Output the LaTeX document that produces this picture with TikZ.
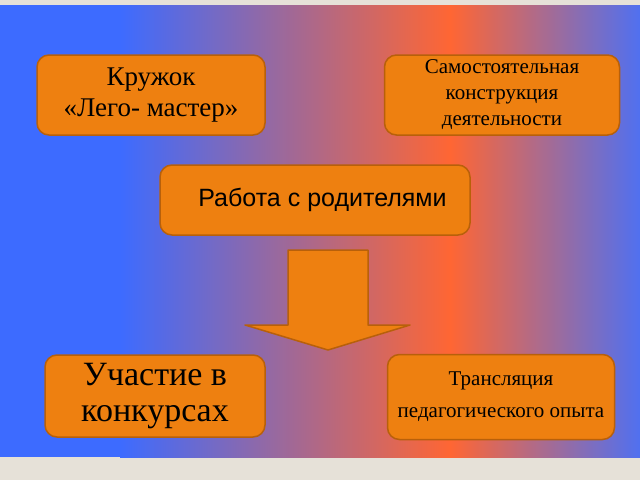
\documentclass[tikz,border=0pt]{standalone}
\usepackage{fontspec}
\setmainfont{Liberation Serif}
\newfontfamily\sansfont{Liberation Sans}
\begin{document}
\begin{tikzpicture}[x=1pt,y=-1pt]

            % Define colors
            \definecolor{bgblue}{RGB}{61,107,255}
            \definecolor{bgred}{RGB}{255,102,51}
            \definecolor{bgright}{RGB}{80,112,240}
            \definecolor{boxfill}{RGB}{238,128,16}
            \definecolor{boxline}{RGB}{184,96,10}
            \definecolor{frame}{RGB}{230,225,216}
            \tikzset{block/.style={draw=boxline, line width=1.5pt, fill=boxfill, rounded corners=12pt, align=center, inner sep=0pt}}

            % Background
            \fill[frame] (0,0) rectangle (640,480);
            \fill[bgblue] (0,5) rectangle (121,457);
            \shade[left color=bgblue, right color=bgred] (120,5) rectangle (451,457);
            \shade[left color=bgred, right color=bgright] (450,5) rectangle (640,457);
            \useasboundingbox (0,0) rectangle (640,480);

            % Boxes
            \node[block, minimum width=228pt, minimum height=80pt, font=\fontsize{27}{31}\selectfont] (kruzhok) at (151,95) {Кружок\\ «Лего- мастер»};
            \node[block, minimum width=235pt, minimum height=80pt, font=\fontsize{21}{26}\selectfont] (samost) at (502,95) {Самостоятельная\\конструкция\\деятельности};
            \node[block, minimum width=310pt, minimum height=70pt, font=\sansfont\fontsize{25}{28}\selectfont] (rabota) at (315,200) {\hspace{0.6em}Работа с родителями};
            \node[block, minimum width=220pt, minimum height=82pt, font=\fontsize{34}{36}\selectfont] (uchastie) at (155,396) {Участие в\\конкурсах};
            \node[block, minimum width=227pt, minimum height=85pt, font=\fontsize{21}{32}\selectfont] (translyatsiya) at (501,397) {Трансляция\\педагогического опыта};

            % Big arrow
            \draw[boxline, line width=1.5pt, fill=boxfill, line join=round] (288,250) -- (368,250) -- (368,325) -- (410,325) -- (328,350) -- (245,325) -- (288,325) -- cycle;

\end{tikzpicture}
\end{document}
